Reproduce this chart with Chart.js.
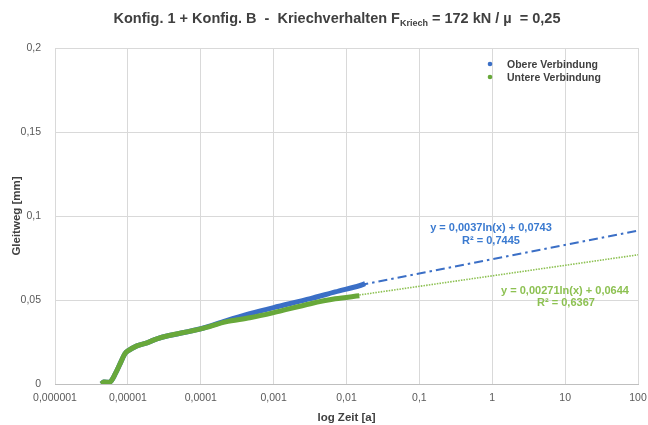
<!DOCTYPE html>
<html>
<head>
<meta charset="utf-8">
<script src="https://cdn.jsdelivr.net/npm/chart.js@4.4.1/dist/chart.umd.min.js"></script>
<style>
  html, body { margin: 0; padding: 0; background: #fff; }
  #wrap { width: 648px; height: 425px; }
</style>
</head>
<body>
<div id="wrap"><canvas id="kriechChart" width="648" height="425"></canvas></div>
<script>
// time in years (log axis) and sliding distance in mm
const timeObere = [4.3e-6, 4.7e-6, 5.7e-6, 6.7e-6, 7.8e-6, 9.1e-6, 1e-5, 1.33e-5, 1.83e-5, 2.5e-5, 3.55e-5, 1e-4, 2.2e-4, 4.7e-4, 1e-3, 3.2e-3, 7e-3, 1.5e-2, 1.8e-2];
const gleitObere = [0, 0.0012, 0.0012, 0.006, 0.012, 0.018, 0.0197, 0.0227, 0.0245, 0.0269, 0.0287, 0.0329, 0.0376, 0.0418, 0.0455, 0.0508, 0.0548, 0.0585, 0.0597];

const timeUntere = [4.3e-6, 4.7e-6, 5.7e-6, 6.7e-6, 7.8e-6, 9.1e-6, 1e-5, 1.33e-5, 1.83e-5, 2.5e-5, 3.55e-5, 1e-4, 2.2e-4, 4.7e-4, 1e-3, 3.2e-3, 7e-3, 1.5e-2];
const gleitUntere = [0, 0.0012, 0.0012, 0.006, 0.012, 0.018, 0.0197, 0.0227, 0.0245, 0.0269, 0.0287, 0.0328, 0.037, 0.0394, 0.0425, 0.0478, 0.0507, 0.0525];

// logarithmic trend lines, endpoints
const trendTime = [0.015, 100];
const trendObere = [0.0588, 0.0913];
const trendUntere = [0.0530, 0.0769];

const xTicks = [1e-6, 1e-5, 1e-4, 1e-3, 1e-2, 1e-1, 1, 10, 100];
const xTickLabels = ['0,000001', '0,00001', '0,0001', '0,001', '0,01', '0,1', '1', '10', '100'];
const yTicks = [0, 0.05, 0.1, 0.15, 0.2];
const yTickLabels = ['0', '0,05', '0,1', '0,15', '0,2'];

const blue = '#3b6fc6';
const green = '#68a83a';
const greenTrend = '#8dc152';
const font = 'Arial, "Liberation Sans", sans-serif';

const toPoints = (xs, ys) => xs.map((x, i) => ({ x: x, y: ys[i] }));

const overlayText = {
    id: 'overlayText',
    afterDraw(chart) {
        const ctx = chart.ctx;
        ctx.save();
        // title with subscript
        ctx.fillStyle = '#404040';
        ctx.textBaseline = 'alphabetic';
        const parts = [
            { t: 'Konfig. 1 + Konfig. B  -  Kriechverhalten F', f: 'bold 14.5px ' + font, dy: 0 },
            { t: 'Kriech', f: 'bold 9px ' + font, dy: 3 },
            { t: ' = 172 kN / \u00b5  = 0,25', f: 'bold 14.5px ' + font, dy: 0 }
        ];
        let total = 0;
        parts.forEach(p => { ctx.font = p.f; p.w = ctx.measureText(p.t).width; total += p.w; });
        let x = 337 - total / 2;
        parts.forEach(p => { ctx.font = p.f; ctx.textAlign = 'left'; ctx.fillText(p.t, x, 23 + p.dy); x += p.w; });

        // legend inside plot
        ctx.font = 'bold 10.5px ' + font;
        ctx.textBaseline = 'middle';
        [[blue, 'Obere Verbindung', 65], [green, 'Untere Verbindung', 78]].forEach(([c, label, y]) => {
            ctx.fillStyle = c;
            ctx.beginPath();
            ctx.arc(490, y - 1, 2.3, 0, Math.PI * 2);
            ctx.fill();
            ctx.fillStyle = '#404040';
            ctx.fillText(label, 507, y);
        });

        // trend equations
        ctx.font = 'bold 11px ' + font;
        ctx.textAlign = 'center';
        ctx.fillStyle = '#3a7ad0';
        ctx.fillText('y = 0,0037ln(x) + 0,0743', 491, 228);
        ctx.fillText('R\u00b2 = 0,7445', 491, 241);
        ctx.fillStyle = greenTrend;
        ctx.fillText('y = 0,00271ln(x) + 0,0644', 565, 291);
        ctx.fillText('R\u00b2 = 0,6367', 566, 303);
        ctx.restore();
    }
};

const chartConfig = {
    type: 'scatter',
    data: {
        datasets: [
            {
                label: 'Obere Verbindung',
                data: toPoints(timeObere, gleitObere),
                borderColor: blue,
                backgroundColor: blue,
                showLine: true,
                borderWidth: 5,
                pointRadius: 0,
                tension: 0.3,
                order: 2
            },
            {
                label: 'Untere Verbindung',
                data: toPoints(timeUntere, gleitUntere),
                borderColor: green,
                backgroundColor: green,
                showLine: true,
                borderWidth: 5,
                pointRadius: 0,
                tension: 0.3,
                order: 1
            },
            {
                label: 'Trend Obere',
                data: toPoints(trendTime, trendObere),
                borderColor: blue,
                showLine: true,
                borderWidth: 2,
                borderDash: [9, 4, 2.5, 4],
                pointRadius: 0,
                order: 3
            },
            {
                label: 'Trend Untere',
                data: toPoints(trendTime, trendUntere),
                borderColor: greenTrend,
                showLine: true,
                borderWidth: 1.6,
                borderDash: [1.5, 1.2],
                pointRadius: 0,
                order: 4
            }
        ]
    },
    options: {
        responsive: false,
        animation: false,
        layout: { padding: { top: 48, right: 10, left: 0, bottom: 0 } },
        plugins: {
            legend: { display: false },
            tooltip: { enabled: false }
        },
        scales: {
            x: {
                type: 'logarithmic',
                min: 1e-6,
                max: 100,
                afterBuildTicks: (scale) => { scale.ticks = xTicks.map(v => ({ value: v })); },
                afterFit: (scale) => {
                    scale.height = 41;
                    scale.paddingLeft = 0;
                    scale.paddingRight = 0;
                },
                ticks: {
                    autoSkip: false,
                    maxRotation: 0,
                    padding: 8,
                    color: '#595959',
                    font: { family: font, size: 10.5 },
                    callback: (v, i) => xTickLabels[i]
                },
                grid: { color: '#d9d9d9', drawTicks: false },
                border: { color: '#bfbfbf' },
                title: {
                    display: true,
                    text: 'log Zeit [a]',
                    color: '#404040',
                    font: { family: font, size: 11.5, weight: 'bold' },
                    padding: { top: 6, bottom: 0 }
                }
            },
            y: {
                min: 0,
                max: 0.2,
                afterBuildTicks: (scale) => { scale.ticks = yTicks.map(v => ({ value: v })); },
                afterFit: (scale) => { scale.width = 55; },
                ticks: {
                    padding: 14,
                    color: '#595959',
                    font: { family: font, size: 10.5 },
                    callback: (v, i) => yTickLabels[i]
                },
                grid: { color: '#d9d9d9', drawTicks: false },
                border: { display: false },
                title: {
                    display: true,
                    text: 'Gleitweg [mm]',
                    color: '#404040',
                    font: { family: font, size: 11.5, weight: 'bold' },
                    padding: { top: 10, bottom: 0 }
                }
            }
        }
    },
    plugins: [overlayText]
};

const kriechChart = new Chart(
    document.getElementById('kriechChart'),
    chartConfig
);
</script>
</body>
</html>
